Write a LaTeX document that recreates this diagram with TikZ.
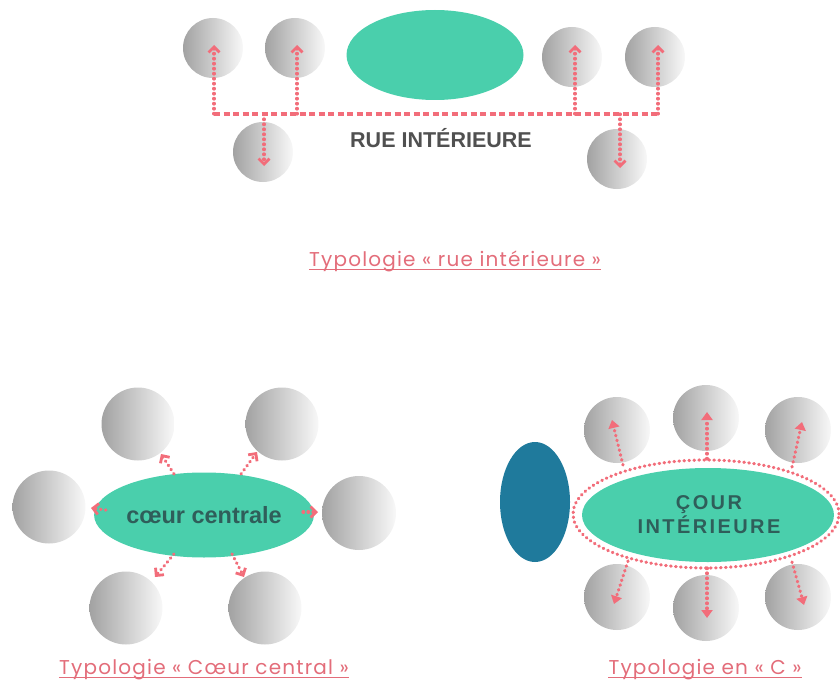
\documentclass[tikz,border=0pt]{standalone}
\usepackage{fontspec}
\setmainfont{Liberation Sans}
\newfontfamily\capfont{Poppins}[LetterSpace=6]
\usetikzlibrary{shapes.geometric,arrows.meta}
\definecolor{tealA}{HTML}{4ACFAC}
\definecolor{blueA}{HTML}{1F7A9C}
\definecolor{pinkA}{HTML}{F26D7A}
\definecolor{pinkT}{HTML}{E36D7A}
\definecolor{grayT}{HTML}{505050}
\definecolor{slateT}{HTML}{2F5E5A}
\definecolor{ballL}{HTML}{A2A2A2}
\definecolor{ballR}{HTML}{F8F8F8}
\tikzset{
  ball/.style={circle, inner sep=0pt, minimum size=#1, left color=ballL, right color=ballR, draw=none},
  ball/.default=60pt,
  blob/.style={ellipse, inner sep=0pt, fill=tealA, draw=none},
  dotline/.style={draw=pinkA, line width=3.2pt, line cap=round, dash pattern=on 0.6pt off 4.4pt},
  dashline/.style={draw=pinkA, line width=3.2pt, dash pattern=on 6pt off 3.5pt},
  chev/.style={dotline, -{Straight Barb[length=5.5pt,width=11pt,line width=2.8pt]}},
  tri/.style={dotline, -{Triangle[length=8pt,width=11pt]}},
  caption/.style={inner sep=0pt, anchor=base, text=pinkT, font=\capfont\fontsize{20}{22}\selectfont},
  uline/.style={draw=pinkT, line width=1.2pt}
}
\begin{document}
\begin{tikzpicture}[x=1pt,y=-1pt]
\useasboundingbox (0,0) rectangle (840,690);

% ---------------- Top: rue intérieure ----------------
\node[ball] (a1) at (213,48) {};
\node[ball] (a2) at (295,48) {};
\node[ball] (a3) at (572,57) {};
\node[ball] (a4) at (655,57) {};
\node[ball] (a5) at (263,152) {};
\node[ball] (a6) at (617,159) {};
\node[blob, minimum width=177pt, minimum height=90pt] (ea) at (435,55) {};

\coordinate (h1) at (214,114);
\coordinate (h2) at (297,114);
\coordinate (h3) at (575,114);
\coordinate (h4) at (658,114);
\coordinate (hd1) at (264,114);
\coordinate (hd2) at (620,114);
\coordinate (t1) at (214,45);
\coordinate (t2) at (297,45);
\coordinate (t3) at (575,45);
\coordinate (t4) at (658,45);
\coordinate (td1) at (264,166);
\coordinate (td2) at (620,168);
\draw[dashline] (h1) -- (h4);
\draw[chev] (h1) -- (t1);
\draw[chev] (h2) -- (t2);
\draw[chev] (h3) -- (t3);
\draw[chev] (h4) -- (t4);
\draw[chev] (hd1) -- (td1);
\draw[chev] (hd2) -- (td2);

\node[font=\bfseries\fontsize{21.5}{24}\selectfont, text=grayT, inner sep=0pt] (rue) at (441,138) {RUE INTÉRIEURE};

\node[caption] (cap1) at (455,266) {Typologie « rue intérieure »};
\draw[uline] ([yshift=-3.5pt]cap1.base west) -- ([yshift=-3.5pt]cap1.base east);

% ---------------- Bottom left: coeur central ----------------
\node[ball=73pt] (b1) at (138,424) {};
\node[ball=73pt] (b2) at (282,424) {};
\node[ball=73pt] (b3) at (49,507) {};
\node[ball=74pt] (b4) at (359,513) {};
\node[ball=73pt] (b5) at (126,608) {};
\node[ball=73pt] (b6) at (265,608) {};
\node[blob, minimum width=205pt, minimum height=85pt, text=slateT,
      font=\bfseries\fontsize{23.5}{26}\selectfont] (eb) at (204,515) {cœur centrale};

\coordinate (s1) at (174,474);
\coordinate (u1) at (161,454);
\coordinate (s2) at (241,474);
\coordinate (u2) at (257,452);
\coordinate (s3) at (106,510);
\coordinate (u3) at (91,508);
\coordinate (s4) at (303,512);
\coordinate (u4) at (318,512);
\coordinate (s5) at (174,554);
\coordinate (u5) at (155,577);
\coordinate (s6) at (232,554);
\coordinate (u6) at (244,577);
\draw[chev] (s1) -- (u1);
\draw[chev] (s2) -- (u2);
\draw[chev] (s3) -- (u3);
\draw[chev] (s4) -- (u4);
\draw[chev] (s5) -- (u5);
\draw[chev] (s6) -- (u6);

\node[caption] (cap2) at (204,674) {Typologie « Cœur central »};
\draw[uline] ([yshift=-3.5pt]cap2.base west) -- ([yshift=-3.5pt]cap2.base east);

% ---------------- Bottom right: en C ----------------
\node[ball=66pt] (c1) at (617,430) {};
\node[ball=66pt] (c2) at (706,418) {};
\node[ball=66pt] (c3) at (798,430) {};
\node[ball=66pt] (c4) at (617,597) {};
\node[ball=66pt] (c5) at (706,608) {};
\node[ball=66pt] (c6) at (798,597) {};
\node[ellipse, inner sep=0pt, fill=blueA, minimum width=70pt, minimum height=120pt] (bl) at (535,502) {};
\node[blob, minimum width=252pt, minimum height=94pt] (ec) at (708,515) {};
\node[ellipse, inner sep=0pt, dotline, minimum width=266pt, minimum height=108pt] (ring) at (706,514) {};
\node[align=center, text=slateT, inner sep=0pt,
      font=\bfseries\fontsize{20}{24}\selectfont\addfontfeatures{LetterSpace=12}] (ct) at (709,515) {ÇOUR\\INTÉRIEURE};

\coordinate (r1) at (623,465);
\coordinate (v1) at (612,420);
\coordinate (r2) at (707,459);
\coordinate (v2) at (707,412);
\coordinate (r3) at (792,467);
\coordinate (v3) at (802,422);
\coordinate (r4) at (628,561);
\coordinate (v4) at (614,604);
\coordinate (r5) at (707,568);
\coordinate (v5) at (707,618);
\coordinate (r6) at (792,562);
\coordinate (v6) at (804,605);
\draw[tri] (r1) -- (v1);
\draw[tri] (r2) -- (v2);
\draw[tri] (r3) -- (v3);
\draw[tri] (r4) -- (v4);
\draw[tri] (r5) -- (v5);
\draw[tri] (r6) -- (v6);

\node[caption] (cap3) at (705,674) {Typologie en « C »};
\draw[uline] ([yshift=-3.5pt]cap3.base west) -- ([yshift=-3.5pt]cap3.base east);
\end{tikzpicture}
\end{document}
